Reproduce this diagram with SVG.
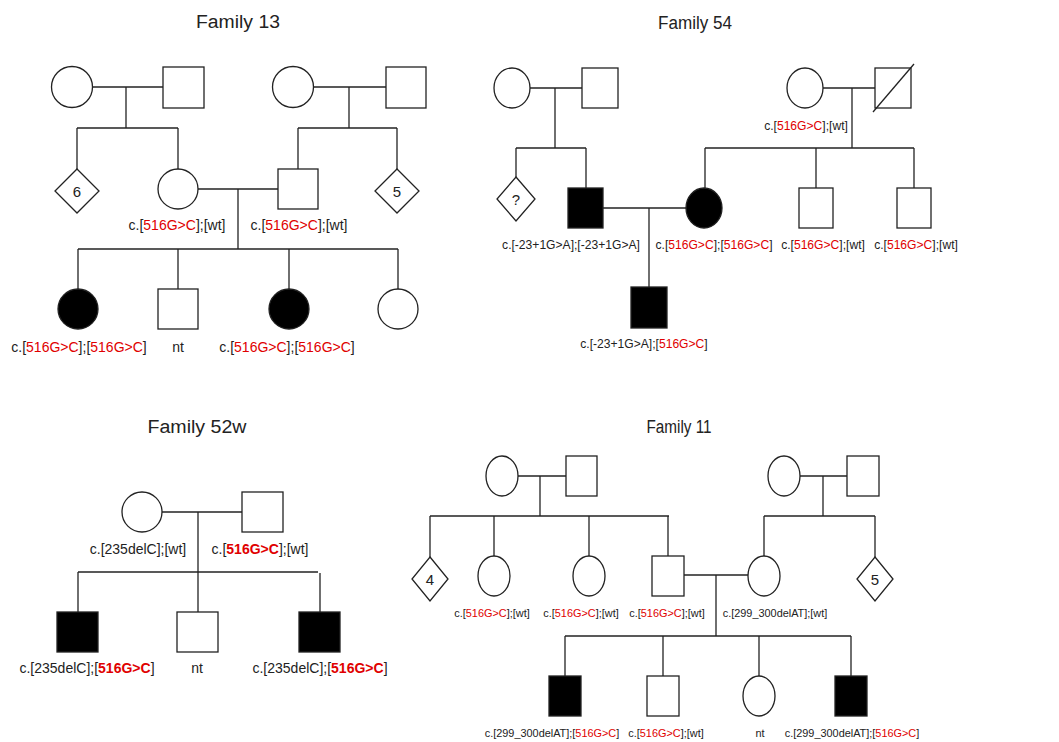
<svg xmlns="http://www.w3.org/2000/svg" width="1059" height="742" viewBox="0 0 1059 742">
<style>
.s{fill:#fff;stroke:#222;stroke-width:1.3}
.f{fill:#000;stroke:#222;stroke-width:1.3}
.c line,.c path{stroke:#222;stroke-width:1.3;fill:none}
text{font-family:"Liberation Sans",Arial,sans-serif;fill:#222}
.t{font-size:18px;text-anchor:middle}
.l{font-size:14px;text-anchor:middle}
.l54{font-size:12.1px;text-anchor:middle}
.l11{font-size:10.9px;text-anchor:middle}
.n{font-size:15px;text-anchor:middle}
.r{fill:#e00000}
.rb{fill:#e00000;font-weight:bold}
</style>
<rect width="1059" height="742" fill="#fff"/>

<!-- Family 13 -->
<text class="t" x="238" y="28" textLength="84" lengthAdjust="spacingAndGlyphs">Family 13</text>
<g class="c" id="f13-connectors">
<line x1="93" y1="87" x2="163" y2="87"/><line x1="126" y1="87" x2="126" y2="128"/>
<line x1="77" y1="128" x2="178" y2="128"/><line x1="77" y1="128" x2="77" y2="169"/><line x1="178" y1="128" x2="178" y2="169"/>
<line x1="313" y1="87" x2="386" y2="87"/><line x1="349" y1="87" x2="349" y2="128"/>
<line x1="298" y1="128" x2="397" y2="128"/><line x1="298" y1="128" x2="298" y2="169"/><line x1="397" y1="128" x2="397" y2="169"/>
<line x1="198" y1="189" x2="278" y2="189"/><line x1="238" y1="189" x2="238" y2="249"/>
<line x1="78" y1="249" x2="398" y2="249"/>
<line x1="78" y1="249" x2="78" y2="289"/><line x1="178" y1="249" x2="178" y2="289"/><line x1="289" y1="249" x2="289" y2="289"/><line x1="398" y1="249" x2="398" y2="289"/>
</g>
<g id="f13-gm1"><circle class="s" cx="72" cy="87" r="20.5"/></g>
<g id="f13-gf1"><rect class="s" x="163" y="67" width="41" height="41"/></g>
<g id="f13-gm2"><circle class="s" cx="293" cy="87" r="20.5"/></g>
<g id="f13-gf2"><rect class="s" x="386" y="67" width="40" height="41"/></g>
<g id="f13-sib6"><path class="s" d="M77 169L99 191L77 213L55 191Z"/><text class="n" x="77" y="196.5">6</text></g>
<g id="f13-mother"><circle class="s" cx="178" cy="189" r="20"/><text class="l" x="177" y="230">c.[<tspan class="r">516G&gt;C</tspan>];[wt]</text></g>
<g id="f13-father"><rect class="s" x="278" y="169" width="40" height="40"/><text class="l" x="299" y="230">c.[<tspan class="r">516G&gt;C</tspan>];[wt]</text></g>
<g id="f13-sib5"><path class="s" d="M397 169L419 191L397 213L375 191Z"/><text class="n" x="397" y="196.5">5</text></g>
<g id="f13-c1"><circle class="f" cx="78" cy="309" r="20"/><text class="l" x="79" y="352">c.[<tspan class="r">516G&gt;C</tspan>];[<tspan class="r">516G&gt;C</tspan>]</text></g>
<g id="f13-c2"><rect class="s" x="158" y="289" width="40" height="40"/><text class="l" x="178" y="352">nt</text></g>
<g id="f13-c3"><circle class="f" cx="289" cy="309" r="20"/><text class="l" x="287" y="352">c.[<tspan class="r">516G&gt;C</tspan>];[<tspan class="r">516G&gt;C</tspan>]</text></g>
<g id="f13-c4"><circle class="s" cx="398" cy="309" r="20"/></g>

<!-- Family 54 -->
<text class="t" x="695" y="29" textLength="74" lengthAdjust="spacingAndGlyphs">Family 54</text>
<g class="c" id="f54-connectors">
<line x1="530" y1="88" x2="582" y2="88"/><line x1="555" y1="88" x2="555" y2="148"/>
<line x1="516" y1="148" x2="586" y2="148"/><line x1="516" y1="148" x2="516" y2="177"/><line x1="586" y1="148" x2="586" y2="188"/>
<line x1="823" y1="88" x2="875" y2="88"/><line x1="852" y1="88" x2="852" y2="148"/>
<line x1="705" y1="148" x2="914" y2="148"/><line x1="705" y1="148" x2="705" y2="188"/><line x1="816" y1="148" x2="816" y2="188"/><line x1="914" y1="148" x2="914" y2="188"/>
<line x1="603" y1="208" x2="686" y2="208"/><line x1="649" y1="208" x2="649" y2="287"/>
</g>
<g id="f54-gm1"><ellipse class="s" cx="512" cy="88" rx="18" ry="20"/></g>
<g id="f54-gf1"><rect class="s" x="582" y="68" width="36" height="40"/></g>
<g id="f54-gm2"><ellipse class="s" cx="805" cy="88" rx="18" ry="20"/><text class="l54" x="806" y="130">c.[<tspan class="r">516G&gt;C</tspan>];[wt]</text></g>
<g id="f54-gf2"><rect class="s" x="875" y="68" width="36" height="40"/><line x1="873" y1="112" x2="914" y2="64" stroke="#222" stroke-width="1.3"/></g>
<g id="f54-sibq"><path class="s" d="M516 177L535 199L516 221L497 199Z"/><text class="n" x="516" y="204.5">?</text></g>
<g id="f54-father"><rect class="f" x="568" y="188" width="35" height="40"/><text class="l54" x="571" y="249">c.[-23+1G&gt;A];[-23+1G&gt;A]</text></g>
<g id="f54-mother"><ellipse class="f" cx="704" cy="208" rx="18" ry="20"/><text class="l54" x="714" y="249">c.[<tspan class="r">516G&gt;C</tspan>];[<tspan class="r">516G&gt;C</tspan>]</text></g>
<g id="f54-b1"><rect class="s" x="799" y="188" width="34" height="40"/><text class="l54" x="823" y="249">c.[<tspan class="r">516G&gt;C</tspan>];[wt]</text></g>
<g id="f54-b2"><rect class="s" x="897" y="188" width="34" height="40"/><text class="l54" x="916" y="249">c.[<tspan class="r">516G&gt;C</tspan>];[wt]</text></g>
<g id="f54-child"><rect class="f" x="631" y="287" width="36" height="41"/><text class="l54" x="644" y="348">c.[-23+1G&gt;A];[<tspan class="r">516G&gt;C</tspan>]</text></g>

<!-- Family 52w -->
<text class="t" x="197" y="433" textLength="99" lengthAdjust="spacingAndGlyphs">Family 52w</text>
<g class="c" id="f52-connectors">
<line x1="162" y1="512" x2="242" y2="512"/><line x1="198" y1="512" x2="198" y2="612"/>
<line x1="78" y1="572" x2="318" y2="572"/><line x1="78" y1="572" x2="78" y2="612"/><line x1="320" y1="573" x2="320" y2="612"/>
</g>
<g id="f52-mother"><circle class="s" cx="142" cy="512" r="20"/><text class="l" x="138" y="554">c.[235delC];[wt]</text></g>
<g id="f52-father"><rect class="s" x="242" y="492" width="41" height="40"/><text class="l" x="260" y="554">c.[<tspan class="rb">516G&gt;C</tspan>];[wt]</text></g>
<g id="f52-c1"><rect class="f" x="57" y="612" width="41" height="40"/><text class="l" x="87" y="673">c.[235delC];[<tspan class="rb">516G&gt;C</tspan>]</text></g>
<g id="f52-c2"><rect class="s" x="177" y="612" width="41" height="40"/><text class="l" x="197" y="673">nt</text></g>
<g id="f52-c3"><rect class="f" x="299" y="612" width="41" height="40"/><text class="l" x="320" y="673">c.[235delC];[<tspan class="rb">516G&gt;C</tspan>]</text></g>

<!-- Family 11 -->
<text class="t" x="679" y="433" textLength="65" lengthAdjust="spacingAndGlyphs">Family 11</text>
<g class="c" id="f11-connectors">
<line x1="518" y1="476" x2="566" y2="476"/><line x1="540" y1="476" x2="540" y2="516"/>
<line x1="430" y1="516" x2="669" y2="516"/>
<line x1="430" y1="516" x2="430" y2="557"/><line x1="494" y1="516" x2="494" y2="556"/><line x1="589" y1="516" x2="589" y2="556"/><line x1="668" y1="516" x2="668" y2="556"/>
<line x1="800" y1="476" x2="847" y2="476"/><line x1="823" y1="476" x2="823" y2="516"/>
<line x1="764" y1="516" x2="875" y2="516"/><line x1="764" y1="516" x2="764" y2="556"/><line x1="875" y1="516" x2="875" y2="557"/>
<line x1="684" y1="575" x2="748" y2="575"/><line x1="716" y1="575" x2="716" y2="636"/>
<line x1="565" y1="636" x2="851" y2="636"/>
<line x1="565" y1="636" x2="565" y2="676"/><line x1="663" y1="636" x2="663" y2="676"/><line x1="759" y1="636" x2="759" y2="676"/><line x1="851" y1="636" x2="851" y2="676"/>
</g>
<g id="f11-gm1"><ellipse class="s" cx="502" cy="476" rx="16" ry="20"/></g>
<g id="f11-gf1"><rect class="s" x="566" y="456" width="31" height="40"/></g>
<g id="f11-gm2"><ellipse class="s" cx="784" cy="476" rx="16" ry="20"/></g>
<g id="f11-gf2"><rect class="s" x="847" y="456" width="32" height="40"/></g>
<g id="f11-sib4"><path class="s" d="M430 557L448 579L430 601L412 579Z"/><text class="n" x="430" y="584.5">4</text></g>
<g id="f11-aunt1"><ellipse class="s" cx="494" cy="576" rx="16" ry="20"/><text class="l11" x="492" y="617">c.[<tspan class="r">516G&gt;C</tspan>];[wt]</text></g>
<g id="f11-aunt2"><ellipse class="s" cx="589" cy="576" rx="16" ry="20"/><text class="l11" x="581" y="617">c.[<tspan class="r">516G&gt;C</tspan>];[wt]</text></g>
<g id="f11-father"><rect class="s" x="652" y="556" width="32" height="40"/><text class="l11" x="667" y="617">c.[<tspan class="r">516G&gt;C</tspan>];[wt]</text></g>
<g id="f11-mother"><ellipse class="s" cx="764" cy="576" rx="16" ry="20"/><text class="l11" x="775" y="617">c.[299_300delAT];[wt]</text></g>
<g id="f11-sib5"><path class="s" d="M875 557L893 579L875 601L857 579Z"/><text class="n" x="875" y="584.5">5</text></g>
<g id="f11-c1"><rect class="f" x="549" y="676" width="32" height="40"/><text class="l11" x="552" y="737">c.[299_300delAT];[<tspan class="r">516G&gt;C</tspan>]</text></g>
<g id="f11-c2"><rect class="s" x="647" y="676" width="32" height="40"/><text class="l11" x="666" y="737">c.[<tspan class="r">516G&gt;C</tspan>];[wt]</text></g>
<g id="f11-c3"><ellipse class="s" cx="759" cy="696" rx="16" ry="20"/><text class="l11" x="760" y="737">nt</text></g>
<g id="f11-c4"><rect class="f" x="835" y="676" width="32" height="40"/><text class="l11" x="852" y="737">c.[299_300delAT];[<tspan class="r">516G&gt;C</tspan>]</text></g>
</svg>
